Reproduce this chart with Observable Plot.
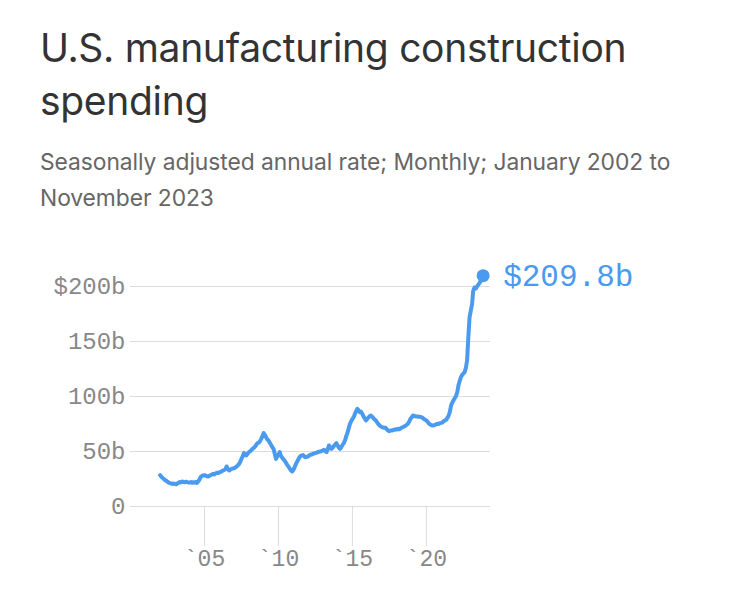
<!DOCTYPE html>
<html>
<head>
<meta charset="utf-8">
<script src="https://cdn.jsdelivr.net/npm/d3@7"></script>
<script src="https://cdn.jsdelivr.net/npm/@observablehq/plot@0.6"></script>
<style>
  html, body { margin: 0; padding: 0; background: #fff; }
  #wrap { position: relative; width: 750px; height: 599px; overflow: hidden; }
  #title { position: absolute; left: 40px; top: 21px; font-family: Inter, "Noto Sans", sans-serif; font-size: 39px; line-height: 53px; color: #333; letter-spacing: -0.3px; font-weight: 400; white-space: nowrap; }
  #subtitle { position: absolute; left: 40px; top: 144px; font-family: Inter, "Noto Sans", sans-serif; font-size: 22.8px; line-height: 36px; color: #666; letter-spacing: -0.05px; white-space: nowrap; }
  #chart { position: absolute; left: 0; top: 230px; }
</style>
</head>
<body>
<div id="wrap">
  <div id="title">U.S. manufacturing construction<br>spending</div>
  <div id="subtitle">Seasonally adjusted annual rate; Monthly; January 2002 to<br>November 2023</div>
  <div id="chart"></div>
</div>
<script>
// Monthly values, billions of dollars (SAAR), Jan 2002 – Nov 2023
const v2002 = [28.5, 27.0, 26.0, 25.2, 24.0, 23.5, 22.5, 21.8, 21.2, 21.0, 20.5, 20.8];
const v2003 = [20.6, 20.2, 20.9, 21.5, 22.3, 21.8, 22.7, 22.4, 22.0, 22.6, 22.1, 21.8];
const v2004 = [21.8, 22.3, 21.6, 22.0, 21.7, 22.4, 21.5, 23.0, 24.5, 27.0, 27.8, 28.2];
const v2005 = [28.5, 28.0, 27.5, 27.3, 27.8, 28.6, 29.0, 29.7, 29.2, 30.0, 30.6, 30.4];
const v2006 = [31.0, 31.5, 32.0, 32.7, 33.2, 33.8, 36.4, 34.0, 32.7, 33.5, 34.2, 34.6];
const v2007 = [34.8, 35.5, 36.2, 37.3, 38.5, 40.5, 43.3, 45.5, 48.5, 47.5, 46.4, 48.0];
const v2008 = [49.4, 50.2, 51.3, 52.5, 53.3, 54.5, 56.0, 57.6, 58.0, 59.4, 61.5, 64.0];
const v2009 = [66.7, 65.0, 63.0, 61.0, 60.0, 58.0, 56.0, 54.0, 52.4, 48.0, 43.3, 45.5];
const v2010 = [47.0, 49.4, 46.0, 44.5, 43.0, 41.8, 40.0, 38.0, 36.5, 34.8, 33.0, 31.8];
const v2011 = [33.0, 35.5, 38.0, 40.3, 42.5, 44.5, 46.0, 46.4, 46.8, 45.5, 44.8, 45.2];
const v2012 = [45.5, 46.5, 47.0, 47.3, 47.8, 48.2, 48.6, 49.0, 49.5, 49.8, 50.0, 50.5];
const v2013 = [51.0, 51.5, 50.5, 49.4, 52.0, 55.5, 54.0, 52.4, 53.5, 55.0, 56.5, 57.6];
const v2014 = [55.5, 53.5, 52.4, 54.0, 56.0, 57.6, 60.0, 64.0, 67.0, 71.0, 75.2, 77.5];
const v2015 = [79.5, 81.2, 84.0, 86.5, 88.8, 87.5, 85.7, 86.2, 84.3, 82.0, 80.0, 78.2];
const v2016 = [79.5, 81.0, 82.0, 82.7, 81.5, 80.5, 79.0, 78.2, 76.5, 75.0, 73.5, 72.8];
const v2017 = [72.1, 71.8, 71.5, 71.5, 70.0, 69.0, 68.5, 69.2, 69.0, 69.5, 69.7, 70.2];
const v2018 = [70.0, 70.6, 70.2, 71.0, 71.8, 72.2, 72.7, 73.5, 74.2, 75.2, 77.0, 79.5];
const v2019 = [81.0, 82.7, 82.5, 82.0, 81.8, 81.8, 81.5, 81.5, 81.2, 80.5, 79.5, 78.8];
const v2020 = [78.2, 77.0, 75.5, 74.5, 74.0, 73.6, 73.8, 74.2, 74.8, 75.2, 75.0, 75.8];
const v2021 = [76.0, 76.5, 77.5, 78.2, 78.8, 80.5, 82.5, 86.0, 91.8, 94.5, 96.5, 98.5];
const v2022 = [100.5, 104.0, 110.0, 114.0, 117.5, 119.5, 121.0, 122.0, 126.0, 132.7, 154.0, 172.0];
const v2023 = [178.0, 184.0, 196.0, 199.0, 198.0, 200.0, 201.5, 203.0, 205.0, 207.0, 209.8];

const years = [2002,2003,2004,2005,2006,2007,2008,2009,2010,2011,2012,2013,2014,2015,2016,2017,2018,2019,2020,2021,2022,2023];
const yearValues = [v2002,v2003,v2004,v2005,v2006,v2007,v2008,v2009,v2010,v2011,v2012,v2013,v2014,v2015,v2016,v2017,v2018,v2019,v2020,v2021,v2022,v2023];

const yTicks = [0, 50, 100, 150, 200];
const yTickLabels = ["0", "50b", "100b", "150b", "$200b"];
const xTickYears = [2005, 2010, 2015, 2020];
const xTickLabels = ["`05", "`10", "`15", "`20"];
const xDomainStart = new Date(Date.UTC(2000, 0, 1));
const xDomainEnd = new Date(Date.UTC(2024, 4, 1));

const data = years.flatMap((yr, i) => yearValues[i].map((v, m) => ({date: new Date(Date.UTC(yr, m, 1)), value: v})));
const last = data[data.length - 1];
const xTicks = xTickYears.map(y => new Date(Date.UTC(y, 0, 1)));

const blue = "#4a9aee";
const mono = "'Liberation Mono', 'DejaVu Sans Mono', monospace";

const chart = Plot.plot({
  width: 750,
  height: 369,
  marginLeft: 130,
  marginRight: 260,
  marginTop: 56,
  marginBottom: 93,
  style: {fontFamily: mono, background: "transparent", overflow: "visible"},
  x: {type: "utc", domain: [xDomainStart, xDomainEnd]},
  y: {domain: [0, 200]},
  marks: [
    Plot.ruleY(yTicks, {stroke: "#dcdcdc", strokeWidth: 1}),
    Plot.axisX(xTicks, {
      tickSize: 40, tickPadding: 3, stroke: "#dcdcdc", fill: "#888",
      fontSize: 23, fontFamily: mono,
      tickFormat: d => xTickLabels[xTicks.findIndex(t => +t === +d)], label: null
    }),
    Plot.axisY(yTicks, {
      tickSize: 0, tickPadding: 5, fill: "#888", fontSize: 24, fontFamily: mono,
      tickFormat: d => yTickLabels[yTicks.indexOf(d)], label: null
    }),
    Plot.line(data, {x: "date", y: "value", stroke: blue, strokeWidth: 4, strokeLinejoin: "round", strokeLinecap: "round"}),
    Plot.dot([last], {x: "date", y: "value", r: 6.5, fill: blue, stroke: "none"}),
    Plot.text([last], {x: "date", y: "value", text: d => "$" + d.value.toFixed(1) + "b", dx: 20, textAnchor: "start", fill: blue, fontSize: 31, fontFamily: mono})
  ]
});
document.getElementById("chart").appendChild(chart);
</script>
</body>
</html>
